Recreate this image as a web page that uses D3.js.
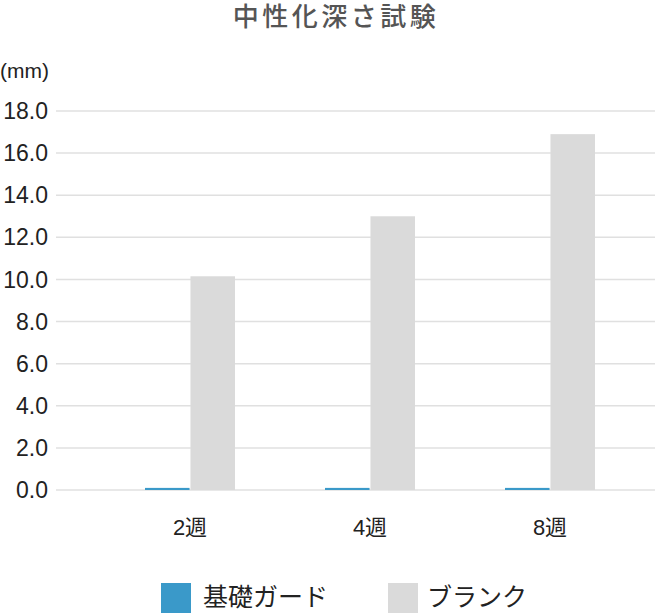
<!DOCTYPE html>
<html>
<head>
<meta charset="utf-8">
<script src="https://cdn.jsdelivr.net/npm/d3@7"></script>
<style>
  html, body { margin: 0; padding: 0; background: #fff; }
  svg { display: block; }
</style>
</head>
<body>
<svg id="chart" width="657" height="613"></svg>
<script>
const title = "中性化深さ試験";
const unitLabel = "(mm)";
const categories = ["2週", "4週", "8週"];
const seriesNames = ["基礎ガード", "ブランク"];
const seriesColors = ["#3a99c9", "#dadada"];
const kisoGuard = [0.1, 0.1, 0.1];
const blank = [10.15, 13.0, 16.9];
const yTicks = [0, 2, 4, 6, 8, 10, 12, 14, 16, 18];

const seriesValues = [kisoGuard, blank];
const data = categories.map((c, i) => ({
  cat: c,
  vals: seriesNames.map((s, j) => ({ key: s, value: seriesValues[j][i], color: seriesColors[j] }))
}));

const svg = d3.select("#chart");
const latin = "'Liberation Sans', 'Noto Sans CJK JP', sans-serif";
const cjk = "'Noto Sans CJK JP', sans-serif";

const y = d3.scaleLinear().domain([0, 18]).range([490, 111]);
const x = d3.scaleBand().domain(categories).range([100, 640]).paddingInner(0.5).paddingOuter(0.25);
const xs = d3.scaleBand().domain(seriesNames).range([0, x.bandwidth()]).paddingInner(0.02);

// title
svg.append("text")
  .attr("x", 336).attr("y", 26)
  .attr("text-anchor", "middle")
  .attr("font-family", cjk)
  .attr("font-size", 26)
  .attr("font-weight", 500)
  .attr("letter-spacing", 3.5)
  .attr("fill", "#555")
  .text(title);

// unit
svg.append("text")
  .attr("x", 0).attr("y", 78)
  .attr("font-family", latin)
  .attr("font-size", 21)
  .attr("fill", "#222")
  .text(unitLabel);

// grid + y labels
const yAxis = d3.axisLeft(y).tickValues(yTicks).tickFormat(d3.format(".1f")).tickSize(0);
const yg = svg.append("g").attr("transform", "translate(48,0)").call(yAxis);
yg.select(".domain").remove();
yg.selectAll("text")
  .attr("x", 0).attr("dy", "0.33em")
  .attr("font-family", latin)
  .attr("font-size", 23)
  .attr("fill", "#222");

svg.append("g").selectAll("line").data(yTicks).join("line")
  .attr("x1", 56).attr("x2", 655)
  .attr("y1", d => y(d)).attr("y2", d => y(d))
  .attr("stroke", "#e0e0e0").attr("stroke-width", 1.5);

// bars
const groups = svg.append("g").selectAll("g").data(data).join("g")
  .attr("transform", d => `translate(${x(d.cat)},0)`);
groups.selectAll("rect").data(d => d.vals).join("rect")
  .attr("x", d => xs(d.key))
  .attr("width", xs.bandwidth())
  .attr("y", d => y(d.value))
  .attr("height", d => y(0) - y(d.value))
  .attr("fill", d => d.color);

// x labels
const xAxis = d3.axisBottom(x).tickSize(0);
const xg = svg.append("g").attr("transform", "translate(0,490)").call(xAxis);
xg.select(".domain").remove();
xg.selectAll("text")
  .attr("y", 45).attr("dy", 0)
  .attr("font-family", latin)
  .attr("font-size", 22)
  .attr("fill", "#222");

// legend
const legendX = [161, 388];
const lg = svg.append("g").selectAll("g").data(seriesNames).join("g")
  .attr("transform", (d, i) => `translate(${legendX[i]},583)`);
lg.append("rect").attr("width", 30).attr("height", 30)
  .attr("fill", (d, i) => seriesColors[i]);
lg.append("text")
  .attr("x", (d, i) => i === 0 ? 42 : 39)
  .attr("y", 23)
  .attr("font-family", cjk)
  .attr("font-size", 25)
  .attr("fill", "#222")
  .text(d => d);
</script>
</body>
</html>
